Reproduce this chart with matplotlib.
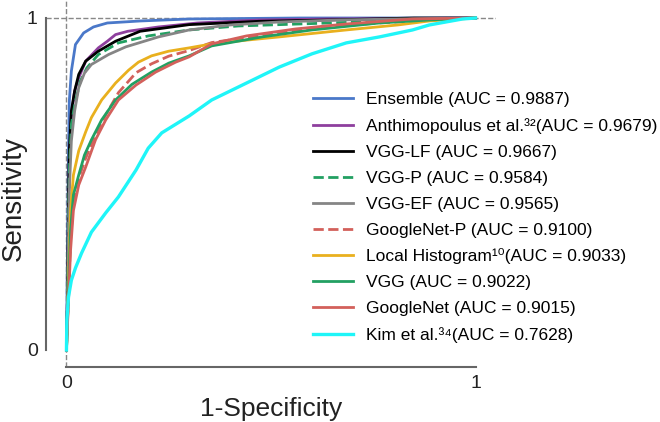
import matplotlib
matplotlib.use("Agg")
import matplotlib.pyplot as plt

plt.rcParams['font.family'] = ['Liberation Sans', 'DejaVu Sans']

# ---- data (FPR, TPR) ----
ens_x = [0, 0.0025, 0.005, 0.007, 0.012, 0.022, 0.042, 0.066, 0.10, 0.18, 0.30, 0.57, 1.0]
ens_y = [0, 0.30, 0.60, 0.75, 0.84, 0.92, 0.955, 0.973, 0.985, 0.991, 0.997, 1.0, 1.0]

ant_x = [0, 0.0025, 0.005, 0.007, 0.012, 0.02, 0.03, 0.047, 0.078, 0.10, 0.12, 0.15, 0.225, 0.32, 0.47, 0.64, 1.0]
ant_y = [0, 0.15, 0.42, 0.57, 0.71, 0.78, 0.82, 0.87, 0.91, 0.93, 0.95, 0.96, 0.973, 0.985, 0.994, 0.997, 1.0]

lf_x = [0, 0.0025, 0.005, 0.007, 0.012, 0.02, 0.03, 0.047, 0.078, 0.12, 0.18, 0.30, 0.47, 0.64, 0.85, 1.0]
lf_y = [0, 0.15, 0.45, 0.60, 0.72, 0.78, 0.83, 0.87, 0.90, 0.93, 0.96, 0.98, 0.99, 0.994, 1.0, 1.0]

vp_x = [0, 0.0025, 0.005, 0.007, 0.012, 0.022, 0.034, 0.05, 0.078, 0.127, 0.20, 0.30, 0.42, 0.57, 0.716, 0.86, 1.0]
vp_y = [0, 0.15, 0.39, 0.54, 0.68, 0.75, 0.81, 0.85, 0.89, 0.925, 0.946, 0.964, 0.976, 0.982, 0.988, 0.994, 1.0]

ef_x = [0, 0.0025, 0.005, 0.007, 0.012, 0.02, 0.03, 0.044, 0.061, 0.103, 0.145, 0.225, 0.30, 0.40, 0.52, 0.667, 0.81, 1.0]
ef_y = [0, 0.12, 0.33, 0.48, 0.63, 0.72, 0.79, 0.834, 0.86, 0.89, 0.913, 0.943, 0.964, 0.979, 0.988, 0.994, 0.997, 1.0]

gp_x = [0, 0.0025, 0.005, 0.01, 0.017, 0.03, 0.047, 0.071, 0.096, 0.127, 0.17, 0.208, 0.25, 0.30, 0.355, 0.47, 0.60, 0.765, 0.93, 1.0]
gp_y = [0, 0.084, 0.166, 0.33, 0.45, 0.518, 0.578, 0.648, 0.708, 0.775, 0.835, 0.862, 0.885, 0.902, 0.926, 0.946, 0.97, 0.985, 0.997, 1.0]

lh_x = [0, 0.0025, 0.005, 0.01, 0.017, 0.03, 0.047, 0.061, 0.086, 0.12, 0.152, 0.176, 0.208, 0.25, 0.30, 0.355, 0.446, 0.52, 0.684, 0.81, 0.887, 1.0]
lh_y = [0, 0.09, 0.21, 0.42, 0.527, 0.60, 0.657, 0.70, 0.753, 0.804, 0.843, 0.867, 0.886, 0.90, 0.91, 0.922, 0.934, 0.943, 0.964, 0.979, 0.991, 1.0]

vgg_x = [0, 0.0025, 0.005, 0.01, 0.017, 0.03, 0.044, 0.061, 0.086, 0.12, 0.16, 0.208, 0.25, 0.30, 0.355, 0.478, 0.60, 0.765, 0.887, 1.0]
vgg_y = [0, 0.09, 0.18, 0.36, 0.467, 0.527, 0.587, 0.633, 0.693, 0.753, 0.80, 0.837, 0.864, 0.886, 0.916, 0.943, 0.964, 0.985, 0.994, 1.0]

gn_x = [0, 0.0025, 0.005, 0.01, 0.017, 0.03, 0.047, 0.071, 0.096, 0.127, 0.17, 0.218, 0.267, 0.30, 0.355, 0.44, 0.56, 0.684, 0.846, 1.0]
gn_y = [0, 0.075, 0.15, 0.30, 0.42, 0.497, 0.551, 0.633, 0.693, 0.753, 0.798, 0.837, 0.867, 0.883, 0.922, 0.946, 0.967, 0.982, 0.997, 1.0]

kim_x = [0, 0.001, 0.005, 0.012, 0.022, 0.037, 0.061, 0.096, 0.127, 0.17, 0.20, 0.233, 0.30, 0.355, 0.44, 0.52, 0.60, 0.684, 0.765, 0.846, 0.887, 0.968, 1.0]
kim_y = [0, 0.09, 0.16, 0.21, 0.247, 0.292, 0.355, 0.413, 0.461, 0.542, 0.608, 0.654, 0.705, 0.753, 0.804, 0.852, 0.892, 0.925, 0.943, 0.964, 0.979, 0.997, 1.0]

labels = [
    'Ensemble (AUC = 0.9887)',
    'Anthimopoulus et al.\u00b3\u00b2(AUC = 0.9679)',
    'VGG-LF (AUC = 0.9667)',
    'VGG-P (AUC = 0.9584)',
    'VGG-EF (AUC = 0.9565)',
    'GoogleNet-P (AUC = 0.9100)',
    'Local Histogram\u00b9\u2070(AUC = 0.9033)',
    'VGG (AUC = 0.9022)',
    'GoogleNet (AUC = 0.9015)',
    'Kim et al.\u00b3\u2074(AUC = 0.7628)',
]

series = [(ens_x, ens_y), (ant_x, ant_y), (lf_x, lf_y), (vp_x, vp_y), (ef_x, ef_y),
          (gp_x, gp_y), (lh_x, lh_y), (vgg_x, vgg_y), (gn_x, gn_y), (kim_x, kim_y)]
colors = ['#4a78c9', '#8e3f9e', '#000000', '#22a062', '#858585',
          '#d3605b', '#e9b01e', '#22a062', '#d3605b', '#1ff5f8']
styles = ['-', '-', '-', '--', '-', '--', '-', '-', '-', '-']
widths = [2.0, 2.0, 2.0, 2.0, 2.0, 2.0, 2.0, 2.0, 2.0, 2.4]

fig = plt.figure(figsize=(6.6, 4.22), dpi=100)
ax = fig.add_axes([0.0697, 0.1313, 0.6818, 0.8654])

ax.axhline(1, color='#888888', ls='--', lw=1.0, zorder=0)
ax.axvline(0, color='#888888', ls='--', lw=1.0, zorder=0)

for (x, y), c, s, w, lab in zip(series, colors, styles, widths, labels):
    ax.plot(x, y, color=c, ls=s, lw=w, label=lab)

ax.set_xlim(-0.05, 1.05)
ax.set_ylim(-0.05, 1.05)
ax.set_xticks([0, 1])
ax.set_yticks([0, 1])
ax.set_xticklabels(['0', '1'])
ax.set_yticklabels(['0', '1'])
ax.tick_params(length=0, labelsize=14, labelcolor='#222222', pad=6)
for side in ['top', 'right']:
    ax.spines[side].set_visible(False)
for side in ['left', 'bottom']:
    ax.spines[side].set_color('#666666')
    ax.spines[side].set_linewidth(1.5)
    ax.spines[side].set_bounds(0, 1)

ax.set_xlabel('1-Specificity', fontsize=19, color='#222222', labelpad=4)
ax.set_ylabel('Sensitivity', fontsize=20, color='#222222')
ax.yaxis.set_label_coords(-0.042, 0.46)

fig.legend(loc='center left', bbox_to_anchor=(0.474, 0.4846), frameon=False,
           fontsize=12.5, handlelength=2.3, handletextpad=0.75, labelspacing=0.62,
           borderpad=0, borderaxespad=0)

fig.savefig('out.png', dpi=100)
